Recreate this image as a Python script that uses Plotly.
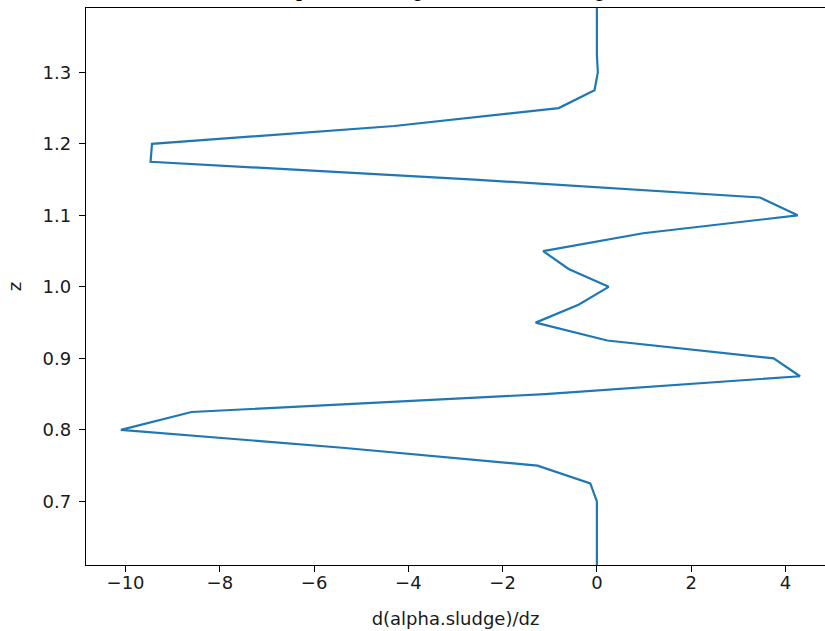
import plotly.graph_objects as go

# z levels (bottom to top) and derivative values
z_levels = [0.600, 0.625, 0.650, 0.675, 0.700, 0.725, 0.750, 0.775, 0.800, 0.825,
            0.850, 0.875, 0.900, 0.925, 0.950, 0.975, 1.000, 1.025, 1.050, 1.075,
            1.100, 1.125, 1.150, 1.175, 1.200, 1.225, 1.250, 1.275, 1.300, 1.325,
            1.350, 1.375, 1.400]
dalpha_dz = [0.0, 0.0, 0.0, 0.0, 0.0, -0.14, -1.26, -5.4, -10.1, -8.6,
             -1.1, 4.31, 3.75, 0.22, -1.30, -0.39, 0.25, -0.60, -1.14, 0.98,
             4.26, 3.46, -2.6, -9.47, -9.44, -4.3, -0.81, -0.05, 0.02, 0.0,
             0.0, 0.0, 0.0]

x_ticks = [-10, -8, -6, -4, -2, 0, 2, 4]
x_tick_text = ["\u221210", "\u22128", "\u22126", "\u22124", "\u22122", "0", "2", "4"]
y_ticks = [0.7, 0.8, 0.9, 1.0, 1.1, 1.2, 1.3]
y_tick_text = ["0.7", "0.8", "0.9", "1.0", "1.1", "1.2", "1.3"]

x_title = "d(alpha.sludge)/dz"
y_title = "z"
title_text = "(c) d\u03b1/dz profile (sludge blanket), settling"

fig = go.Figure()
fig.add_trace(go.Scatter(
    x=dalpha_dz, y=z_levels, mode="lines",
    line=dict(color="#1f77b4", width=2.2),
    showlegend=False, hoverinfo="skip"))

font = dict(family="DejaVu Sans", size=18, color="#1a1a1a")

fig.update_layout(
    width=825, height=631,
    margin=dict(l=86, r=0, t=8, b=66, autoexpand=False),
    paper_bgcolor="white", plot_bgcolor="white",
    font=font,
    xaxis=dict(
        range=[-10.84, 4.84], tickvals=x_ticks, ticktext=x_tick_text,
        showgrid=False, zeroline=False, showline=True, mirror=True,
        linecolor="black", linewidth=1.3, automargin=False,
        ticks="outside", ticklen=6, tickwidth=1.2, tickcolor="black",
        ticklabelstandoff=-5,
        title=dict(text=x_title, font=font, standoff=20),
        tickfont=font),
    yaxis=dict(
        range=[0.611, 1.390], tickvals=y_ticks, ticktext=y_tick_text,
        showgrid=False, zeroline=False, showline=True, mirror=False,
        linecolor="black", linewidth=1.3, automargin=False,
        ticks="outside", ticklen=6, tickwidth=1.2, tickcolor="black",
        ticklabelstandoff=4,
        title=dict(text=y_title, font=font, standoff=16),
        tickfont=font),
    annotations=[dict(
        text=title_text, xref="paper", yref="paper",
        x=0.432, y=1.0, xanchor="center", yanchor="bottom", yshift=5,
        showarrow=False,
        font=dict(family="DejaVu Serif", size=19, color="black"))],
)

fig.write_html("out.html", config={"displayModeBar": False},
               post_script="document.body.style.margin='0px';")
